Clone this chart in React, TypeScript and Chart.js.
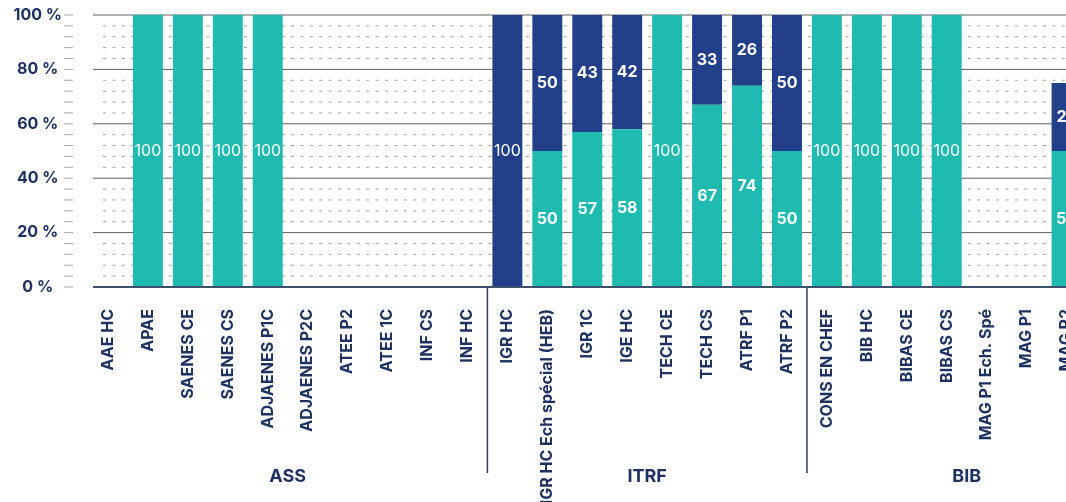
import React, { useEffect, useRef } from 'react';
import { Chart, registerables } from 'chart.js';

Chart.register(...registerables);

const categories = [
  'AAE HC', 'APAE', 'SAENES CE', 'SAENES CS', 'ADJAENES P1C', 'ADJAENES P2C', 'ATEE P2', 'ATEE 1C', 'INF CS', 'INF HC',
  'IGR HC', 'IGR HC Ech spécial (HEB)', 'IGR 1C', 'IGE HC', 'TECH CE', 'TECH CS', 'ATRF P1', 'ATRF P2',
  'CONS EN CHEF', 'BIB HC', 'BIBAS CE', 'BIBAS CS', 'MAG P1 Ech. Spé', 'MAG P1', 'MAG P2',
];

const tealValues = [
  null, 100, 100, 100, 100, null, null, null, null, null,
  null, 50, 57, 58, 100, 67, 74, 50,
  100, 100, 100, 100, null, null, 50,
];

const navyValues = [
  null, null, null, null, null, null, null, null, null, null,
  100, 50, 43, 42, null, 33, 26, 50,
  null, null, null, null, null, null, 25,
];

const groupNames = ['ASS', 'ITRF', 'BIB'];
const groupStarts = [0, 10, 18];
const groupEnds = [9, 17, 25];

const TEAL = '#1fbbb0';
const NAVY = '#22408a';
const TEXT = '#1d3260';
const FONT = 'Inter, "Noto Sans", sans-serif';

const decorPlugin = {
  id: 'decor',
  beforeDatasetsDraw(chart: any) {
    const { ctx, chartArea } = chart;
    const ys = chart.scales.y;
    const x0 = chartArea.left + 5;
    const x1 = chartArea.right;
    ctx.save();
    for (let v = 0; v <= 100; v += 4) {
      const py = ys.getPixelForValue(v);
      ctx.setLineDash([]);
      ctx.strokeStyle = '#a8a8a8';
      ctx.lineWidth = 1;
      ctx.beginPath();
      ctx.moveTo(chartArea.left - 24, py);
      ctx.lineTo(chartArea.left - 15, py);
      ctx.stroke();
      if (v === 0) continue;
      ctx.beginPath();
      if (v % 20 === 0) {
        ctx.strokeStyle = '#5f5f5f';
        ctx.setLineDash([]);
        ctx.moveTo(x0, py);
      } else {
        ctx.strokeStyle = '#a0a0a0';
        ctx.setLineDash([3, 6.4]);
        ctx.moveTo(x0 + 10, py);
      }
      ctx.lineTo(x1, py);
      ctx.stroke();
    }
    ctx.restore();
  },
  afterDatasetsDraw(chart: any) {
    const { ctx, chartArea } = chart;
    ctx.save();
    ctx.fillStyle = '#ffffff';
    ctx.textAlign = 'center';
    ctx.textBaseline = 'middle';
    chart.data.datasets.forEach((ds: any, di: number) => {
      const meta = chart.getDatasetMeta(di);
      meta.data.forEach((el: any, i: number) => {
        const v = ds.data[i];
        if (v == null) return;
        const { x, y, base } = el.getProps(['x', 'y', 'base'], true);
        ctx.font = `${v === 100 ? 400 : 700} 16px ${FONT}`;
        ctx.fillText(String(v), x, (y + base) / 2);
      });
    });
    const ys = chart.scales.y;
    const by = ys.getPixelForValue(0);
    ctx.strokeStyle = '#3f506d';
    ctx.lineWidth = 2;
    ctx.beginPath();
    ctx.moveTo(chartArea.left + 5, by);
    ctx.lineTo(chartArea.right, by);
    ctx.stroke();
    ctx.restore();
  },
  afterDraw(chart: any) {
    const { ctx, chartArea } = chart;
    const xs = chart.scales.x;
    ctx.save();
    ctx.strokeStyle = '#2b3d62';
    ctx.lineWidth = 1.5;
    for (let g = 1; g < groupStarts.length; g++) {
      const sx = (xs.getPixelForValue(groupStarts[g] - 1) + xs.getPixelForValue(groupStarts[g])) / 2;
      ctx.beginPath();
      ctx.moveTo(sx, chartArea.bottom + 1);
      ctx.lineTo(sx, 473);
      ctx.stroke();
    }
    ctx.fillStyle = TEXT;
    ctx.font = `700 18px ${FONT}`;
    ctx.textAlign = 'center';
    ctx.textBaseline = 'middle';
    groupNames.forEach((name, g) => {
      const cx = (xs.getPixelForValue(groupStarts[g]) + xs.getPixelForValue(groupEnds[g])) / 2;
      ctx.fillText(name, cx, 477);
    });
    ctx.restore();
  },
};

export default function App() {
  const ref = useRef<HTMLCanvasElement | null>(null);
  useEffect(() => {
    if (!ref.current) return;
    const chart = new Chart(ref.current, {
      type: 'bar',
      data: {
        labels: categories,
        datasets: [
          { data: tealValues, backgroundColor: TEAL, categoryPercentage: 1, barPercentage: 0.75 },
          { data: navyValues, backgroundColor: NAVY, categoryPercentage: 1, barPercentage: 0.75 },
        ],
      },
      options: {
        responsive: true,
        maintainAspectRatio: false,
        animation: false,
        layout: { padding: { top: 15, right: 12, bottom: 0, left: 0 } },
        plugins: { legend: { display: false }, tooltip: { enabled: false } },
        scales: {
          x: {
            stacked: true,
            grid: { display: false },
            border: { display: false },
            ticks: {
              autoSkip: false,
              maxRotation: 90,
              minRotation: 90,
              padding: 14,
              color: TEXT,
              font: { family: FONT, size: 16, weight: '700' },
            },
            afterFit: (s: any) => { s.height = 215; },
          },
          y: {
            stacked: true,
            min: 0,
            max: 100,
            grid: { display: false },
            border: { display: false },
            ticks: {
              stepSize: 20,
              padding: 18,
              crossAlign: 'center',
              color: TEXT,
              font: { family: FONT, size: 16, weight: '700' },
              callback: (v: any) => `${v} %`,
            },
            afterFit: (s: any) => { s.width = 88; s.paddingTop = 8; s.paddingBottom = 8; },
          },
        },
      } as any,
      plugins: [decorPlugin],
    });
    return () => chart.destroy();
  }, []);
  return (
    <div style={{ position: 'fixed', left: 0, top: 0, width: 1066, height: 502, overflow: 'hidden', background: '#fff' }}>
      <div style={{ position: 'relative', width: 1100, height: 502 }}>
        <canvas ref={ref} />
      </div>
    </div>
  );
}
